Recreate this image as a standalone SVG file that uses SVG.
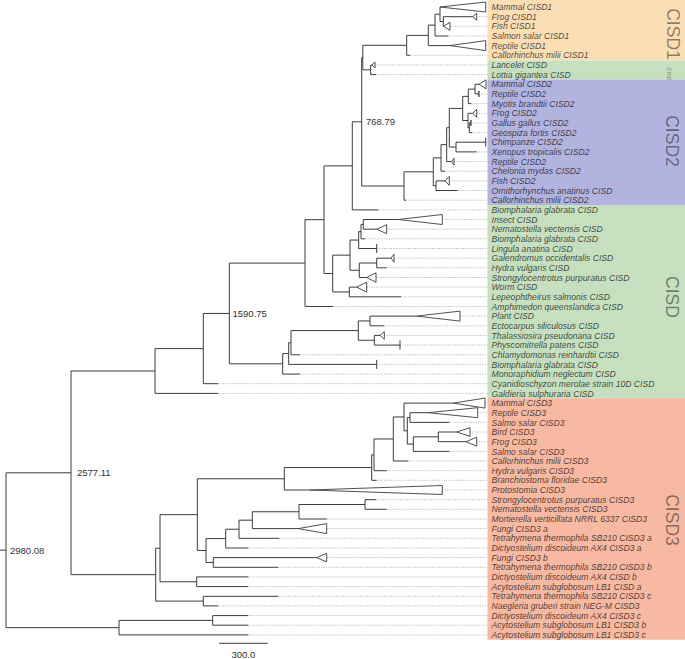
<svg xmlns="http://www.w3.org/2000/svg" width="685" height="659" viewBox="0 0 685 659">
<style>
.br{fill:none;stroke:#3c3c3c;stroke-width:1}
.ld{fill:none;stroke:#9a9a9a;stroke-width:0.8;stroke-dasharray:1 1.4}
.tri{fill:#fff;stroke:#3c3c3c;stroke-width:0.9}
.lb{font-family:"Liberation Sans",Arial,sans-serif;font-style:italic;font-size:8.6px;fill:#000;fill-opacity:0.7}
.gl{font-family:"Liberation Sans",Arial,sans-serif;font-size:17.5px;fill:#000;fill-opacity:0.45;text-anchor:middle}
.nl{font-family:"Liberation Sans",Arial,sans-serif;font-size:9.5px;fill:#333}
</style>
<rect width="685" height="659" fill="#fff"/>
<g id="clade-boxes">
<rect id="box-cisd1" x="487.5" y="0" width="197.5" height="60.5" fill="#FCDEB4"/>
<rect id="box-cisd-small" x="487.5" y="60.5" width="197.5" height="19" fill="#C5DFBF"/>
<rect id="box-cisd2" x="487.5" y="79.5" width="197.5" height="125.5" fill="#B2B4DF"/>
<rect id="box-cisd" x="487.5" y="205" width="197.5" height="193.2" fill="#C5DFBF"/>
<rect id="box-cisd3" x="487.5" y="398.2" width="197.5" height="241.5" fill="#F7B9A2"/>
</g>
<g id="clade-labels">
<text class="gl" transform="translate(673,34) rotate(90)" dy="0.35em">CISD1</text>
<text class="gl" style="font-size:5.5px" transform="translate(669,74) rotate(90)" dy="0.35em">CISD</text>
<text class="gl" transform="translate(672.5,141) rotate(90)" dy="0.35em">CISD2</text>
<text class="gl" transform="translate(672.5,297) rotate(90)" dy="0.35em">CISD</text>
<text class="gl" transform="translate(672.5,520) rotate(90)" dy="0.35em">CISD3</text>
</g>
<g id="connectors">
<path class="br" d="M0 550.2H6M6 472.8V627.65M6 472.8H71M6 627.65H119
M71 371V574.65M71 371H155M71 574.65H155.7
M119 620.4V634.9M119 620.4H212.7M119 634.9H248.3
M212.7 615.6V625.2M212.7 615.6H248.3M212.7 625.2H248.3
M155 348.6V393.4M155 348.6H203.3M155 393.4H218
M203.3 313.45V383.7M203.3 313.45H229.3M203.3 383.7H218
M229.3 263.1V363.8M229.3 263.1H305M229.3 363.8H282.7
M305 219.7V306.5M305 219.7H324M305 306.5H333
M324 165.85V273.55M324 165.85H352.3M324 273.55H332.7
M352.3 121.8V209.9M352.3 121.8H361.7M352.3 209.9H378.3
M361.7 57.6V186M361.7 57.6H362.8M361.7 186H404
M362.8 45.3V69.8M362.8 45.3H406.7M362.8 69.8H370.7
M370.7 65V74.6M370.7 65H372M370.7 74.6H376
M406.7 35.4V55.3M406.7 35.4H428.3M406.7 55.3H410
M428.3 25.1V45.6M428.3 25.1H435M428.3 45.6H450
M435 14.25V36M435 14.25H440M435 36H448.3
M440 7V21.5M440 21.5H443.3
M443.3 16.7V26.3M443.3 16.7H472.7
M404 171.8V200.2M404 171.8H433.3M404 200.2H406
M433.3 157.9V185.7M433.3 157.9H441M433.3 185.7H436
M436 180.9V190.5M436 180.9H445M436 190.5H457.7
M441 144.65V171.2M441 144.65H446.7M441 171.2H445
M446.7 127.7V161.6M446.7 127.7H449.3M446.7 161.6H451.7
M449.3 108.4V147.05M449.3 108.4H462.7M449.3 147.05H456
M456 142.2V151.9M456 142.2H485.7M456 151.9H476.7
M462.7 96.35V120.5M462.7 96.35H468.3M462.7 120.5H468
M468.3 89.1V103.6M468.3 89.1H475M468.3 103.6H471
M475 84.3V93.9M475 84.3H479M475 93.9H478
M468 113.3V127.75M468 113.3H472.7M468 127.75H469.3
M469.3 122.9V132.6M469.3 122.9H470.5M469.3 132.6H472
M332.7 255.15V291.95M332.7 255.15H350M332.7 291.95H349.3
M350 240.05V270.25M350 240.05H358.7M350 270.25H359.3
M358.7 231.6V248.5M358.7 231.6H361M358.7 248.5H376.7
M361 224.35V238.8M361 224.35H363.3M361 238.8H365
M363.3 219.5V229.2M363.3 219.5H398.3M363.3 229.2H376.7
M359.3 263V277.5M359.3 263H376.7M359.3 277.5H366.7
M376.7 258.2V267.8M376.7 258.2H391M376.7 267.8H386.7
M349.3 287.1V296.8M349.3 287.1H356.7M349.3 296.8H401
M282.7 353.55V374.1M282.7 353.55H288.7M282.7 374.1H300
M288.7 342.7V364.4M288.7 342.7H291M288.7 364.4H376.7
M291 330.6V354.8M291 330.6H358.3M291 354.8H300
M358.3 320.95V340.25M358.3 320.95H370M358.3 340.25H374.3
M370 316.1V325.8M370 316.1H416.7M370 325.8H384.3
M374.3 335.4V345.1M374.3 335.4H380M374.3 345.1H400
M155.7 548.2V601.1M155.7 548.2H160M155.7 601.1H203.3
M160 514.66V581.75M160 514.66H197.3M160 581.75H196.7
M196.7 576.9V586.6M196.7 576.9H248.3M196.7 586.6H248.3
M203.3 596.3V605.9M203.3 596.3H278.3M203.3 605.9H218.3
M197.3 478.79V550.53M197.3 478.79H284.3M197.3 550.53H206
M284.3 467.57V490M284.3 467.57H371.7M284.3 490H310
M371.7 454.84V480.3M371.7 454.84H374M371.7 480.3H376.7
M374 438.98V470.7M374 438.98H393.3M374 470.7H386.7
M393.3 416.97V461M393.3 416.97H404M393.3 461H408.3
M404 403.1V430.84M404 403.1H453.3M404 430.84H407.3
M407.3 417.55V444.12M407.3 417.55H410M407.3 444.12H413.3
M410 412.7V422.4M410 412.7H428M410 422.4H449.3
M413.3 436.85V451.4M413.3 436.85H438.3M413.3 451.4H449.3
M438.3 432V441.7M438.3 432H456.7M438.3 441.7H466
M206 538.62V562.45M206 538.62H225.7M206 562.45H213.3
M225.7 529.24V548M225.7 529.24H239M225.7 548H248.3
M239 520.18V538.3M239 520.18H252.3M239 538.3H279
M252.3 511.75V528.6M252.3 511.75H299M252.3 528.6H298.3
M299 504.5V519M299 504.5H365M299 519H326.7
M365 499.7V509.3M365 499.7H376M365 509.3H386.7
M213.3 557.6V567.3M213.3 557.6H316.7M213.3 567.3H278.3"/>
</g>
<g id="node-labels">
<text class="nl" x="10" y="553.6">2980.08</text>
<text class="nl" x="77" y="476.2">2577.11</text>
<text class="nl" x="232.5" y="316.9">1590.75</text>
<text class="nl" x="366" y="125.2">768.79</text>
</g>
<g id="leaves">
<g id="leaf-01"><path class="ld" d="M485.7 7H487.5"/><polygon class="tri" points="440,7 485.7,2 485.7,12"/><text class="lb" x="491.5" y="10.1">Mammal CISD1</text></g>
<g id="leaf-02"><path class="ld" d="M476.7 16.7H487.5"/><polygon class="tri" points="472.7,16.7 476.7,13.2 476.7,20.2"/><text class="lb" x="491.5" y="19.8">Frog CISD1</text></g>
<g id="leaf-03"><path class="ld" d="M450 26.3H487.5"/><polygon class="tri" points="443.3,26.3 450,22.3 450,30.3"/><text class="lb" x="491.5" y="29.4">Fish CISD1</text></g>
<g id="leaf-04"><path class="ld" d="M448.3 36H487.5"/><text class="lb" x="491.5" y="39.1">Salmon salar CISD1</text></g>
<g id="leaf-05"><path class="ld" d="M485.7 45.6H487.5"/><polygon class="tri" points="450,45.6 485.7,40.6 485.7,50.6"/><text class="lb" x="491.5" y="48.7">Reptile CISD1</text></g>
<g id="leaf-06"><path class="ld" d="M410 55.3H487.5"/><text class="lb" x="491.5" y="58.4">Callorhinchus milii CISD1</text></g>
<g id="leaf-07"><path class="ld" d="M375 65H487.5"/><polygon class="tri" points="372,65 375,62 375,68"/><text class="lb" x="491.5" y="68.1">Lancelet CISD</text></g>
<g id="leaf-08"><path class="ld" d="M376 74.6H487.5"/><text class="lb" x="491.5" y="77.7">Lottia gigantea CISD</text></g>
<g id="leaf-09"><path class="ld" d="M486 84.3H487.5"/><polygon class="tri" points="479,84.3 486,79.8 486,88.8"/><text class="lb" x="491.5" y="87.4">Mammal CISD2</text></g>
<g id="leaf-10"><path class="ld" d="M479 93.9H487.5"/><polygon class="tri" points="478,93.9 479,90.9 479,96.9"/><text class="lb" x="491.5" y="97">Reptile CISD2</text></g>
<g id="leaf-11"><path class="ld" d="M471 103.6H487.5"/><text class="lb" x="491.5" y="106.7">Myotis brandtii CISD2</text></g>
<g id="leaf-12"><path class="ld" d="M476.7 113.3H487.5"/><polygon class="tri" points="472.7,113.3 476.7,109.3 476.7,117.3"/><text class="lb" x="491.5" y="116.4">Frog CISD2</text></g>
<g id="leaf-13"><path class="ld" d="M471 122.9H487.5"/><polygon class="tri" points="470.5,122.9 471,119.9 471,125.9"/><text class="lb" x="491.5" y="126">Gallus gallus CISD2</text></g>
<g id="leaf-14"><path class="ld" d="M472 132.6H487.5"/><text class="lb" x="491.5" y="135.7">Geospiza fortis CISD2</text></g>
<g id="leaf-15"><path class="ld" d="M485.7 142.2H487.5"/><path class="br" d="M485.7 137.7V146.7"/><text class="lb" x="491.5" y="145.3">Chimpanze CISD2</text></g>
<g id="leaf-16"><path class="ld" d="M476.7 151.9H487.5"/><text class="lb" x="491.5" y="155">Xenopus tropicalis CISD2</text></g>
<g id="leaf-17"><path class="ld" d="M454 161.6H487.5"/><polygon class="tri" points="451.7,161.6 454,158.1 454,165.1"/><text class="lb" x="491.5" y="164.7">Reptile CISD2</text></g>
<g id="leaf-18"><path class="ld" d="M445 171.2H487.5"/><text class="lb" x="491.5" y="174.3">Chelonia mydas CISD2</text></g>
<g id="leaf-19"><path class="ld" d="M449.3 180.9H487.5"/><polygon class="tri" points="445,180.9 449.3,176.4 449.3,185.4"/><text class="lb" x="491.5" y="184">Fish CISD2</text></g>
<g id="leaf-20"><path class="ld" d="M457.7 190.5H487.5"/><text class="lb" x="491.5" y="193.6">Ornithorhynchus anatinus CISD</text></g>
<g id="leaf-21"><path class="ld" d="M406 200.2H487.5"/><text class="lb" x="491.5" y="203.3">Callorhinchus milii CISD2</text></g>
<g id="leaf-22"><path class="ld" d="M378.3 209.9H487.5"/><text class="lb" x="491.5" y="213">Biomphalaria glabrata CISD</text></g>
<g id="leaf-23"><path class="ld" d="M442.3 219.5H487.5"/><polygon class="tri" points="398.3,219.5 442.3,214.5 442.3,224.5"/><text class="lb" x="491.5" y="222.6">Insect CISD</text></g>
<g id="leaf-24"><path class="ld" d="M386.7 229.2H487.5"/><polygon class="tri" points="376.7,229.2 386.7,224.7 386.7,233.7"/><text class="lb" x="491.5" y="232.3">Nematostella vectensis CISD</text></g>
<g id="leaf-25"><path class="ld" d="M365 238.8H487.5"/><text class="lb" x="491.5" y="241.9">Biomphalaria glabrata CISD</text></g>
<g id="leaf-26"><path class="ld" d="M376.7 248.5H487.5"/><path class="br" d="M376.7 244V253"/><text class="lb" x="491.5" y="251.6">Lingula anatina CISD</text></g>
<g id="leaf-27"><path class="ld" d="M394 258.2H487.5"/><polygon class="tri" points="391,258.2 394,254.2 394,262.2"/><text class="lb" x="491.5" y="261.3">Galendromus occidentalis CISD</text></g>
<g id="leaf-28"><path class="ld" d="M386.7 267.8H487.5"/><text class="lb" x="491.5" y="270.9">Hydra vulgaris CISD</text></g>
<g id="leaf-29"><path class="ld" d="M376 277.5H487.5"/><polygon class="tri" points="366.7,277.5 376,272.8 376,282.2"/><text class="lb" x="491.5" y="280.6">Strongylocentrotus purpuratus CISD</text></g>
<g id="leaf-30"><path class="ld" d="M366.7 287.1H487.5"/><polygon class="tri" points="356.7,287.1 366.7,282.1 366.7,292.1"/><text class="lb" x="491.5" y="290.2">Worm CISD</text></g>
<g id="leaf-31"><path class="ld" d="M401 296.8H487.5"/><text class="lb" x="491.5" y="299.9">Lepeophtheirus salmonis CISD</text></g>
<g id="leaf-32"><path class="ld" d="M333 306.5H487.5"/><text class="lb" x="491.5" y="309.6">Amphimedon queenslandica CISD</text></g>
<g id="leaf-33"><path class="ld" d="M460 316.1H487.5"/><polygon class="tri" points="416.7,316.1 460,311.1 460,321.1"/><text class="lb" x="491.5" y="319.2">Plant CISD</text></g>
<g id="leaf-34"><path class="ld" d="M384.3 325.8H487.5"/><text class="lb" x="491.5" y="328.9">Ectocarpus siliculosus CISD</text></g>
<g id="leaf-35"><path class="ld" d="M384.3 335.4H487.5"/><polygon class="tri" points="380,335.4 384.3,331.6 384.3,339.2"/><text class="lb" x="491.5" y="338.5">Thalassiosira pseudonana CISD</text></g>
<g id="leaf-36"><path class="ld" d="M400 345.1H487.5"/><path class="br" d="M400 340.4V349.8"/><text class="lb" x="491.5" y="348.2">Physcomitrella patens CISD</text></g>
<g id="leaf-37"><path class="ld" d="M300 354.8H487.5"/><text class="lb" x="491.5" y="357.9">Chlamydomonas reinhardtii CISD</text></g>
<g id="leaf-38"><path class="ld" d="M376.7 364.4H487.5"/><path class="br" d="M376.7 359.9V368.9"/><text class="lb" x="491.5" y="367.5">Biomphalaria glabrata CISD</text></g>
<g id="leaf-39"><path class="ld" d="M300 374.1H487.5"/><text class="lb" x="491.5" y="377.2">Monoraphidium neglectum CISD</text></g>
<g id="leaf-40"><path class="ld" d="M218 383.7H487.5"/><text class="lb" x="491.5" y="386.8">Cyanidioschyzon merolae strain 10D CISD</text></g>
<g id="leaf-41"><path class="ld" d="M218 393.4H487.5"/><text class="lb" x="491.5" y="396.5">Galdieria sulphuraria CISD</text></g>
<g id="leaf-42"><path class="ld" d="M485 403.1H487.5"/><polygon class="tri" points="453.3,403.1 485,398.1 485,408.1"/><text class="lb" x="491.5" y="406.2">Mammal CISD3</text></g>
<g id="leaf-43"><path class="ld" d="M477.7 412.7H487.5"/><polygon class="tri" points="428,412.7 477.7,407.7 477.7,417.7"/><text class="lb" x="491.5" y="415.8">Reptile CISD3</text></g>
<g id="leaf-44"><path class="ld" d="M449.3 422.4H487.5"/><text class="lb" x="491.5" y="425.5">Salmo salar CISD3</text></g>
<g id="leaf-45"><path class="ld" d="M470 432H487.5"/><polygon class="tri" points="456.7,432 470,427.7 470,436.3"/><text class="lb" x="491.5" y="435.1">Bird CISD3</text></g>
<g id="leaf-46"><path class="ld" d="M476.7 441.7H487.5"/><polygon class="tri" points="466,441.7 476.7,437.2 476.7,446.2"/><text class="lb" x="491.5" y="444.8">Frog CISD3</text></g>
<g id="leaf-47"><path class="ld" d="M449.3 451.4H487.5"/><text class="lb" x="491.5" y="454.5">Salmo salar CISD3</text></g>
<g id="leaf-48"><path class="ld" d="M408.3 461H487.5"/><text class="lb" x="491.5" y="464.1">Callorhinchus milii CISD3</text></g>
<g id="leaf-49"><path class="ld" d="M386.7 470.7H487.5"/><text class="lb" x="491.5" y="473.8">Hydra vulgaris CISD3</text></g>
<g id="leaf-50"><path class="ld" d="M376.7 480.3H487.5"/><text class="lb" x="491.5" y="483.4">Branchiostoma floridae CISD3</text></g>
<g id="leaf-51"><path class="ld" d="M442.3 490H487.5"/><polygon class="tri" points="310,490 442.3,485.5 442.3,494.5"/><text class="lb" x="491.5" y="493.1">Protostomia CISD3</text></g>
<g id="leaf-52"><path class="ld" d="M376 499.7H487.5"/><text class="lb" x="491.5" y="502.8">Strongylocentrotus purpuratus CISD3</text></g>
<g id="leaf-53"><path class="ld" d="M386.7 509.3H487.5"/><text class="lb" x="491.5" y="512.4">Nematostella vectensis CISD3</text></g>
<g id="leaf-54"><path class="ld" d="M326.7 519H487.5"/><text class="lb" x="491.5" y="522.1">Mortierella verticillata NRRL 6337 CISD3</text></g>
<g id="leaf-55"><path class="ld" d="M326.7 528.6H487.5"/><polygon class="tri" points="298.3,528.6 326.7,523.6 326.7,533.6"/><text class="lb" x="491.5" y="531.7">Fungi CISD3 a</text></g>
<g id="leaf-56"><path class="ld" d="M279 538.3H487.5"/><text class="lb" x="491.5" y="541.4">Tetrahymena thermophila SB210 CISD3 a</text></g>
<g id="leaf-57"><path class="ld" d="M248.3 548H487.5"/><text class="lb" x="491.5" y="551.1">Dictyostelium discoideum AX4 CISD3 a</text></g>
<g id="leaf-58"><path class="ld" d="M326.7 557.6H487.5"/><polygon class="tri" points="316.7,557.6 326.7,553.3 326.7,561.9"/><text class="lb" x="491.5" y="560.7">Fungi CISD3 b</text></g>
<g id="leaf-59"><path class="ld" d="M278.3 567.3H487.5"/><text class="lb" x="491.5" y="570.4">Tetrahymena thermophila SB210 CISD3 b</text></g>
<g id="leaf-60"><path class="ld" d="M248.3 576.9H487.5"/><text class="lb" x="491.5" y="580">Dictyostelium discoideum AX4 CISD b</text></g>
<g id="leaf-61"><path class="ld" d="M248.3 586.6H487.5"/><text class="lb" x="491.5" y="589.7">Acytostelium subglobosum LB1 CISD a</text></g>
<g id="leaf-62"><path class="ld" d="M278.3 596.3H487.5"/><text class="lb" x="491.5" y="599.4">Tetrahymena thermophila SB210 CISD3 c</text></g>
<g id="leaf-63"><path class="ld" d="M218.3 605.9H487.5"/><text class="lb" x="491.5" y="609">Naegleria gruberi strain NEG-M CISD3</text></g>
<g id="leaf-64"><path class="ld" d="M248.3 615.6H487.5"/><text class="lb" x="491.5" y="618.7">Dictyostelium discoideum AX4 CISD3 c</text></g>
<g id="leaf-65"><path class="ld" d="M248.3 625.2H487.5"/><text class="lb" x="491.5" y="628.3">Acytostelium subglobosum LB1 CISD3 b</text></g>
<g id="leaf-66"><path class="ld" d="M248.3 634.9H487.5"/><text class="lb" x="491.5" y="638">Acytostelium subglobosum LB1 CISD3 c</text></g>
</g>
<g id="scale-bar">
<path class="br" d="M219 643.3H267.7"/>
<text class="nl" x="243.3" y="658" text-anchor="middle">300.0</text>
</g>
</svg>
